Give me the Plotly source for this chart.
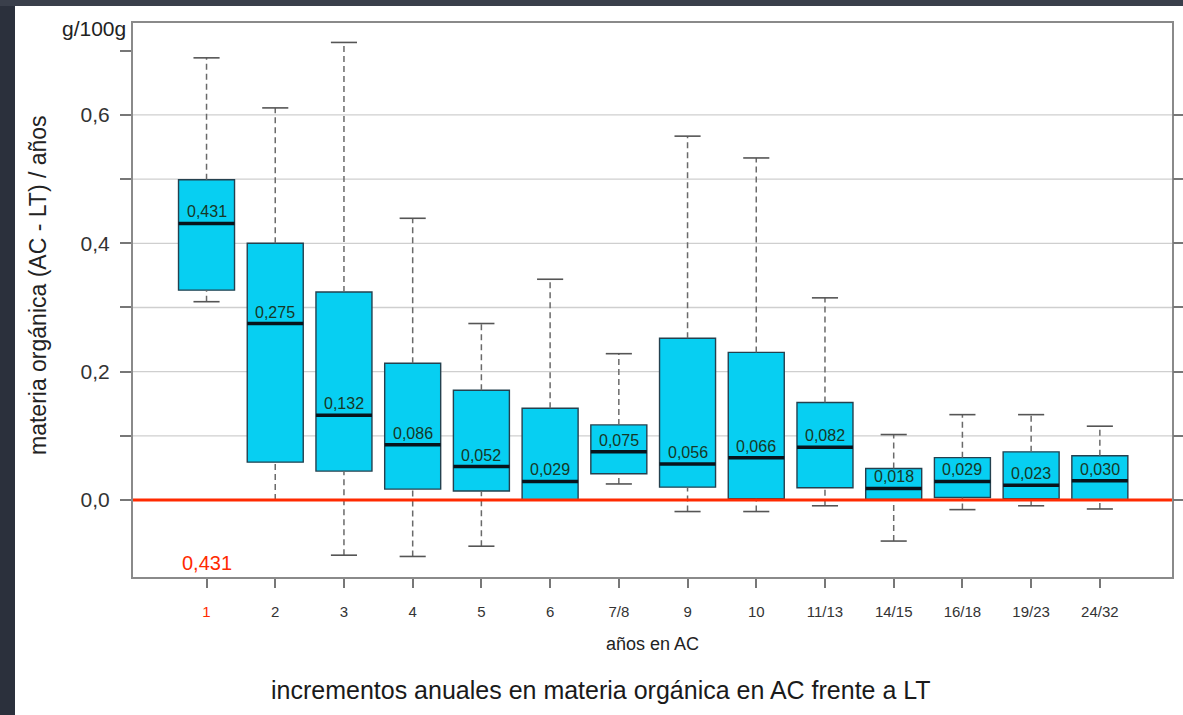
import plotly.graph_objects as go

# ---- data ----
categories = ["1", "2", "3", "4", "5", "6", "7/8", "9", "10", "11/13", "14/15", "16/18", "19/23", "24/32"]
upper_whisker = [0.689, 0.611, 0.713, 0.439, 0.275, 0.344, 0.228, 0.567, 0.533, 0.315, 0.102, 0.133, 0.133, 0.115]
q3_values = [0.499, 0.400, 0.324, 0.213, 0.171, 0.143, 0.117, 0.252, 0.230, 0.152, 0.049, 0.066, 0.075, 0.069]
medians = [0.431, 0.275, 0.132, 0.086, 0.052, 0.029, 0.075, 0.056, 0.066, 0.082, 0.018, 0.029, 0.023, 0.030]
q1_values = [0.327, 0.059, 0.045, 0.017, 0.014, 0.000, 0.041, 0.020, 0.002, 0.019, 0.001, 0.004, 0.002, 0.000]
lower_whisker = [0.309, 0.000, -0.086, -0.088, -0.072, 0.000, 0.025, -0.018, -0.018, -0.009, -0.064, -0.015, -0.009, -0.014]
y_tick_values = [0.0, 0.1, 0.2, 0.3, 0.4, 0.5, 0.6, 0.7]
y_tick_labels = ["0,0", "", "0,2", "", "0,4", "", "0,6", ""]
grid_values = [0.1, 0.2, 0.3, 0.4, 0.5, 0.6]
reference_value = 0.0
highlight_value = medians[0]

# ---- styles ----
W, H = 1183, 715
ML, MR, MT, MB = 133, 11, 23, 138
PW, PH = W - ML - MR, H - MT - MB
FONT = "Liberation Sans, Arial, Helvetica, sans-serif"
BOX_FILL = "#07CFF2"
BOX_LINE = "#24414f"
RED = "#FF2A00"
BOX_W = 0.815
CAP_HALF = 0.19

def px_x(p):
    return (p - ML) / PW

def px_y(p):
    return (H - MB - p) / PH

def fmt(v):
    return f"{v:.3f}".replace(".", ",")

pos = list(range(len(categories)))

fig = go.Figure()

# dashed whiskers
wx, wy = [], []
for i in pos:
    wx += [i, i, None, i, i, None]
    wy += [q3_values[i], upper_whisker[i], None, lower_whisker[i], q1_values[i], None]
fig.add_trace(go.Scatter(x=wx, y=wy, mode="lines", showlegend=False, hoverinfo="skip",
                         line=dict(color="#6a6a6a", width=1.5, dash="6px,4px")))

# whisker caps
cx, cy = [], []
for i in pos:
    for v in (upper_whisker[i], lower_whisker[i]):
        cx += [i - CAP_HALF, i + CAP_HALF, None]
        cy += [v, v, None]
fig.add_trace(go.Scatter(x=cx, y=cy, mode="lines", showlegend=False, hoverinfo="skip",
                         line=dict(color="#555555", width=1.6)))

# boxes
fig.add_trace(go.Box(x=pos, q1=q1_values, median=medians, q3=q3_values,
                     lowerfence=q1_values, upperfence=q3_values,
                     width=BOX_W, whiskerwidth=0, fillcolor=BOX_FILL,
                     line=dict(color=BOX_LINE, width=1.4), boxpoints=False,
                     showlegend=False))

# thick median lines
mx, my = [], []
for i in pos:
    mx += [i - BOX_W / 2, i + BOX_W / 2, None]
    my += [medians[i], medians[i], None]
fig.add_trace(go.Scatter(x=mx, y=my, mode="lines", showlegend=False, hoverinfo="skip",
                         line=dict(color="#08141c", width=3.5)))

# invisible trace for the right-hand tick axis
fig.add_trace(go.Scatter(x=[None], y=[None], yaxis="y2", showlegend=False, hoverinfo="skip"))

shapes = []
# grid lines
for g in grid_values:
    shapes.append(dict(type="line", xref="paper", yref="y", x0=0, x1=1, y0=g, y1=g,
                       line=dict(color="#cfcfcf", width=1.3), layer="below"))
# red reference line
shapes.append(dict(type="line", xref="paper", yref="y", x0=0, x1=1,
                   y0=reference_value, y1=reference_value,
                   line=dict(color=RED, width=3), layer="above"))
# dark page strips
shapes.append(dict(type="rect", xref="paper", yref="paper", x0=px_x(0), x1=px_x(15),
                   y0=px_y(H), y1=px_y(0), fillcolor="#2b303c", line=dict(width=0), layer="below"))
shapes.append(dict(type="rect", xref="paper", yref="paper", x0=px_x(0), x1=px_x(W),
                   y0=px_y(6), y1=px_y(0), fillcolor="#3a3f4b", line=dict(width=0), layer="below"))

annotations = []
for i in pos:
    annotations.append(dict(x=i, y=medians[i], xref="x", yref="y", text=fmt(medians[i]),
                            showarrow=False, yanchor="bottom", yshift=1,
                            font=dict(family=FONT, size=16, color="#163826")))
annotations.append(dict(x=0, y=-0.098, xref="x", yref="y", text=fmt(highlight_value),
                        showarrow=False, font=dict(family=FONT, size=20, color=RED)))
annotations.append(dict(x=px_x(38), y=px_y(285), xref="paper", yref="paper",
                        xanchor="center", yanchor="middle",
                        text="materia orgánica (AC - LT) / años", textangle=-90,
                        showarrow=False, font=dict(family=FONT, size=23, color="#222222")))
annotations.append(dict(x=px_x(128), y=px_y(28), xref="paper", yref="paper",
                        text="g/100g", xanchor="right", yanchor="middle",
                        showarrow=False, font=dict(family=FONT, size=21, color="#222222")))
annotations.append(dict(x=px_x(652), y=px_y(644), xref="paper", yref="paper",
                        xanchor="center", yanchor="middle",
                        text="años en AC", showarrow=False,
                        font=dict(family=FONT, size=18, color="#222222")))
annotations.append(dict(x=px_x(601), y=px_y(690), xref="paper", yref="paper",
                        xanchor="center", yanchor="middle",
                        text="incrementos anuales en materia orgánica en AC frente a LT",
                        showarrow=False, font=dict(family=FONT, size=25, color="#1a1a1a")))

tick_text = [f"<span style='color:{RED}'>{categories[0]}</span>"] + categories[1:]

fig.update_layout(
    width=W, height=H, autosize=False,
    margin=dict(l=ML, r=MR, t=MT, b=MB, pad=0, autoexpand=False),
    paper_bgcolor="white", plot_bgcolor="white",
    separators=",.",
    font=dict(family=FONT, color="#333333"),
    showlegend=False,
    shapes=shapes,
    annotations=annotations,
    xaxis=dict(range=[-1.07, 14.05], tickvals=pos, ticktext=tick_text,
               showgrid=False, zeroline=False, automargin=False,
               showline=True, mirror=True, linecolor="#8a8a8a", linewidth=2,
               ticks="outside", ticklen=9, tickwidth=1.5, tickcolor="#777777",
               ticklabelstandoff=11,
               tickfont=dict(family=FONT, size=15, color="#333333")),
    yaxis=dict(range=[-0.12, 0.7433], tickvals=y_tick_values, ticktext=y_tick_labels,
               showgrid=False, zeroline=False, automargin=False,
               showline=True, mirror=True, linecolor="#8a8a8a", linewidth=2,
               ticks="outside", ticklen=11, tickwidth=1.5, tickcolor="#777777",
               ticklabelstandoff=6,
               tickfont=dict(family=FONT, size=21, color="#333333")),
    yaxis2=dict(range=[-0.12, 0.7433], overlaying="y", side="right", anchor="x",
                tickvals=y_tick_values[:-1], showticklabels=False, showgrid=False,
                zeroline=False, showline=False, automargin=False,
                ticks="outside", ticklen=11, tickwidth=1.5, tickcolor="#777777"),
)

fig.write_html("out.html",
               config={"displayModeBar": False, "responsive": False},
               post_script="document.body.style.margin='0';"
                           "document.documentElement.style.overflow='hidden';"
                           "Plotly.relayout('{plot_id}', {width: 1183, height: 715});")
